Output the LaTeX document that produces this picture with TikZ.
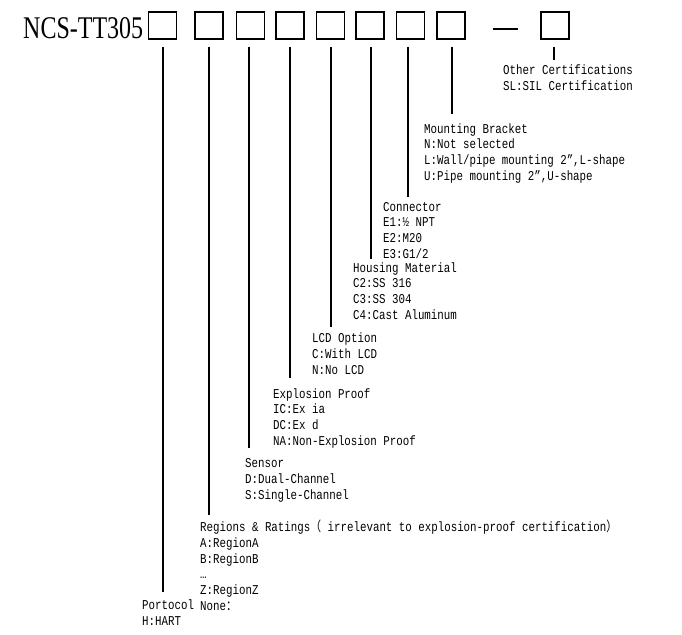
\documentclass[tikz,border=0pt]{standalone}
\usepackage{fontspec}
\setmainfont{Liberation Serif}
\newfontfamily\monof[FakeStretch=0.8]{Liberation Mono}
\newfontfamily\cjk[FakeStretch=0.8]{Noto Sans CJK SC}
\begin{document}
\begin{tikzpicture}[x=1pt,y=-1pt,
  codebox/.style={draw,line width=1.4pt,minimum width=28pt,minimum height=27pt,inner sep=0pt},
  leader/.style={line width=1.4pt},
  desc/.style={anchor=base west,inner sep=0pt,align=left,font=\monof\fontsize{13.5}{15.8}\selectfont}
]
\useasboundingbox (0,0) rectangle (682,634);
% title
\node[anchor=base west,inner sep=0pt] (title) at (23,38) {\resizebox{120pt}{21pt}{\fontsize{30}{30}\selectfont NCS-TT305}};
% boxes
\node[codebox] (b1) at (162.5,25.5) {};
\node[codebox] (b2) at (209,25.5) {};
\node[codebox] (b3) at (250.5,25.5) {};
\node[codebox] (b4) at (290,25.5) {};
\node[codebox] (b5) at (330.5,25.5) {};
\node[codebox] (b6) at (370,25.5) {};
\node[codebox] (b7) at (410.5,25.5) {};
\node[codebox] (b8) at (451,25.5) {};
\node[codebox] (b9) at (555,25.5) {};
% dash
\coordinate (d1) at (493,29);
\coordinate (d2) at (518,29);
\draw[leader] (d1) -- (d2);
% leader end points
\coordinate (e1) at (163,592);
\coordinate (e2) at (209,515);
\coordinate (e3) at (249,448);
\coordinate (e4) at (290,378);
\coordinate (e5) at (331,327);
\coordinate (e6) at (371,259);
\coordinate (e7) at (408,197);
\coordinate (e8) at (452,114);
\coordinate (e9) at (554,60);
\foreach \i in {1,...,9}{
  \draw[leader] ([yshift=-7pt]b\i.south -| e\i) -- (e\i);
}
% descriptions (anchored at the baseline of the last line)
\node[desc] (oc) at (503,90.5) {Other Certifications\\SL:SIL Certification};
\node[desc] (mb) at (424,180.5) {Mounting Bracket\\N:Not selected\\L:Wall/pipe mounting 2”,L-shape\\U:Pipe mounting 2”,U-shape};
\node[desc] (cn) at (383,258.5) {Connector\\E1:½ NPT\\E2:M20\\E3:G1/2};
\node[desc] (hm) at (353,319.5) {Housing Material\\C2:SS 316\\C3:SS 304\\C4:Cast Aluminum};
\node[desc] (lcd) at (312,374.5) {LCD Option\\C:With LCD\\N:No LCD};
\node[desc] (ep) at (273,445.5) {Explosion Proof\\IC:Ex ia\\DC:Ex d\\NA:Non-Explosion Proof};
\node[desc] (se) at (245,499.5) {Sensor\\D:Dual-Channel\\S:Single-Channel};
\node[desc] (rr) at (200,610.5) {Regions \& Ratings{\cjk （} irrelevant to explosion-proof certification{\cjk ）}\\A:RegionA\\B:RegionB\\…\\Z:RegionZ\\None{\cjk ：}};
\node[desc] (pt) at (142,625.5) {Portocol\\H:HART};
\end{tikzpicture}
\end{document}
